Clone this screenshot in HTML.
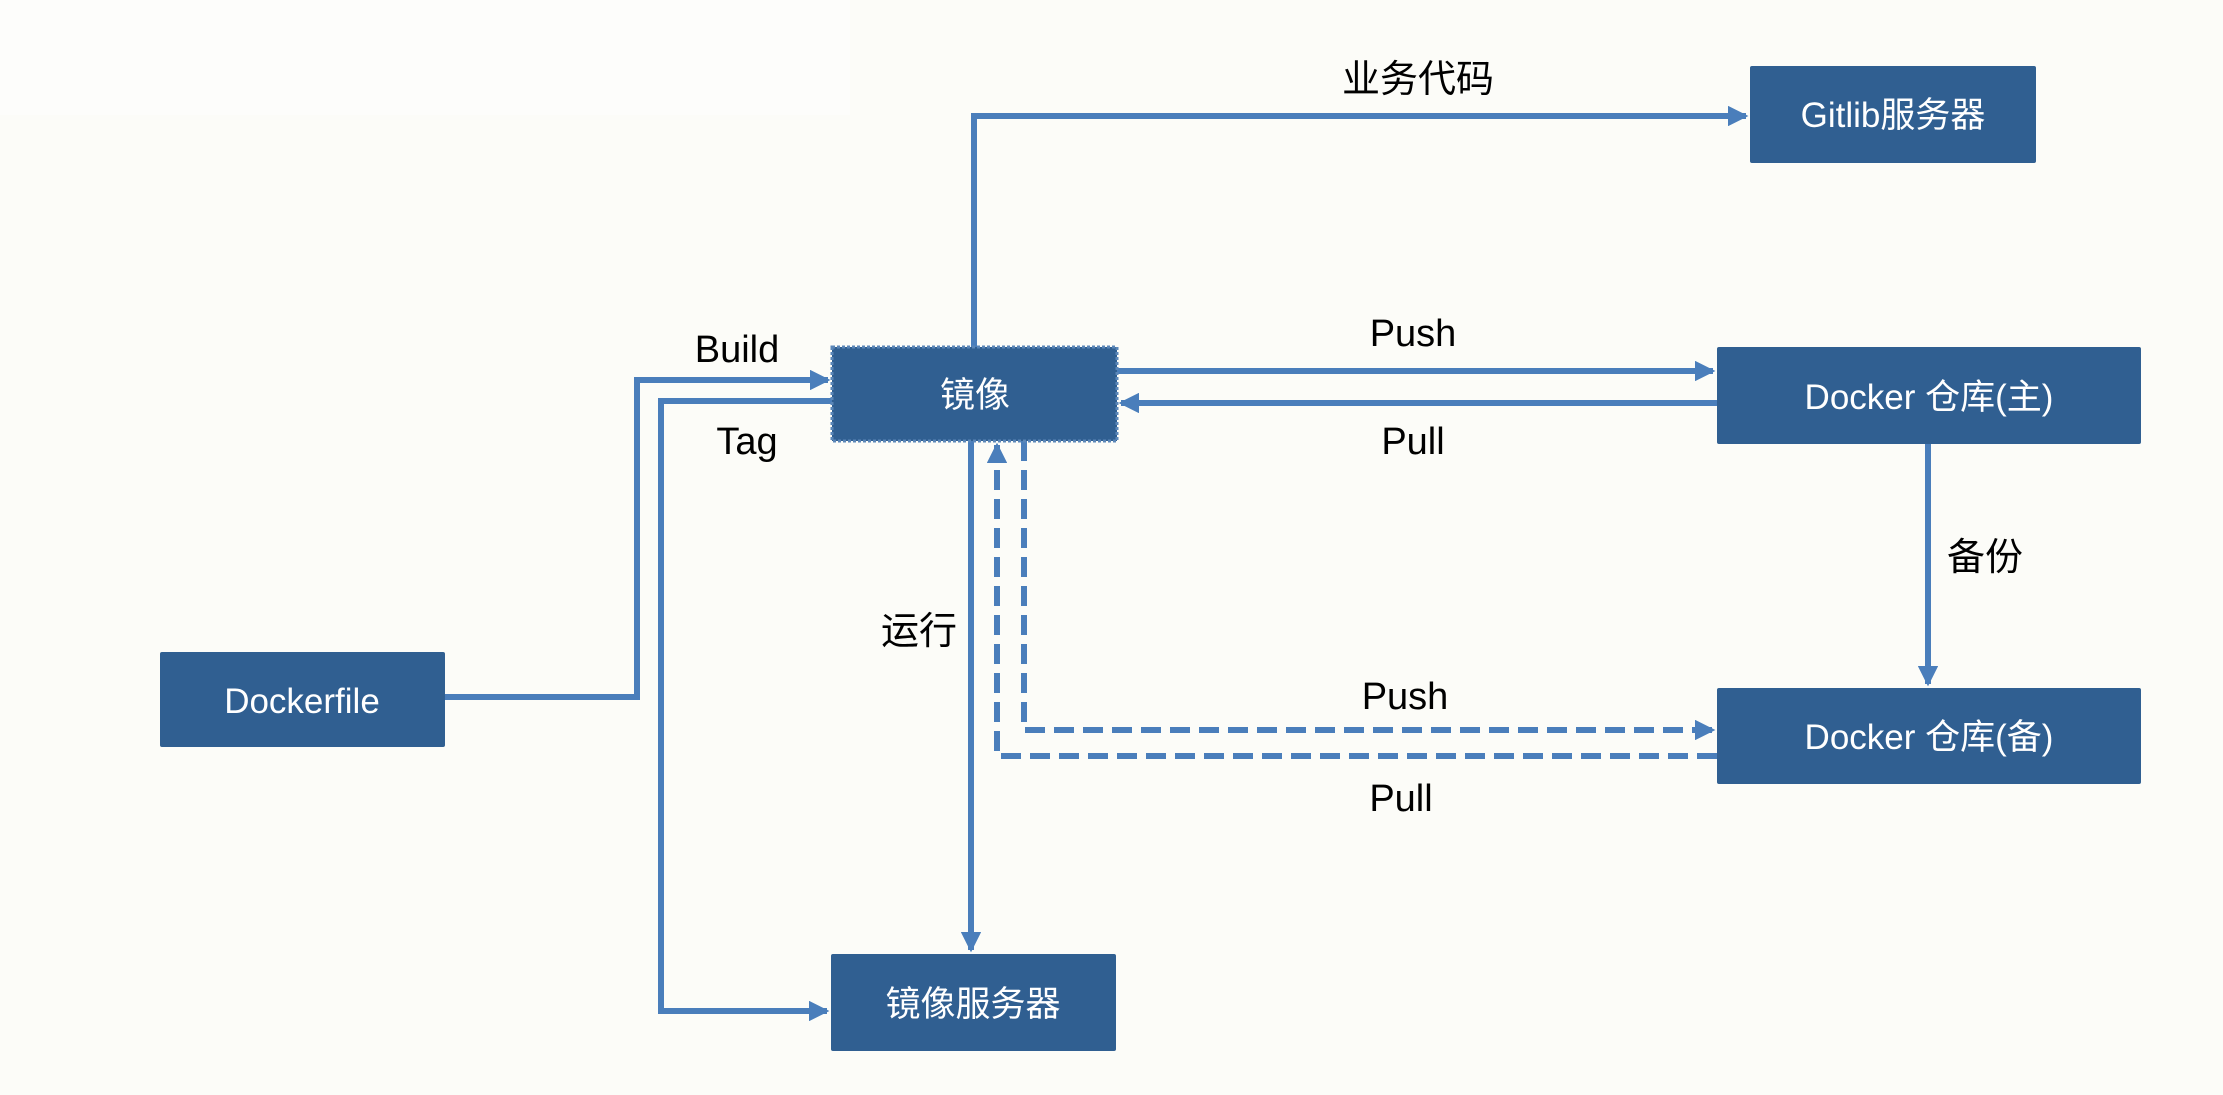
<!DOCTYPE html>
<html><head><meta charset="utf-8"><style>
html,body{margin:0;padding:0;background:#fcfcf8;}
svg{display:block;}
text{font-family:"Liberation Sans","Noto Sans CJK SC",sans-serif;}
</style></head><body>
<svg width="2223" height="1095" viewBox="0 0 2223 1095" xmlns="http://www.w3.org/2000/svg">
<defs>
<marker id="a" markerWidth="3.4" markerHeight="3.4" refX="3" refY="1.7" orient="auto" markerUnits="strokeWidth"><path d="M0,0 L3.4,1.7 L0,3.4 z" fill="#4a7ebb"/></marker>
</defs>
<rect x="0" y="0" width="2223" height="1095" fill="#fcfcf8"/>
<rect x="0" y="0" width="850" height="115" fill="#fdfdfb"/>
<g fill="none" stroke="#4a7ebb" stroke-width="6">
<polyline points="974,347 974,116 1746,116" marker-end="url(#a)"/>
<polyline points="445,697 637,697 637,380 828,380" marker-end="url(#a)"/>
<polyline points="832,401 661,401 661,1011 827,1011" marker-end="url(#a)"/>
<polyline points="1117,371 1713,371" marker-end="url(#a)"/>
<polyline points="1717,403 1121,403" marker-end="url(#a)"/>
<polyline points="971,441 971,950" marker-end="url(#a)"/>
<polyline points="1928,444 1928,684" marker-end="url(#a)"/>
<polyline points="1024,441 1024,730 1713,730" stroke-dasharray="20,9" marker-end="url(#a)"/>
<polyline points="1717,756 997,756 997,445" stroke-dasharray="20,9" marker-end="url(#a)"/>
</g>
<g fill="#305f91">
<rect x="1750" y="66" width="286" height="97" rx="2"/>
<rect x="832" y="347" width="285" height="94" stroke="#5a86b8" stroke-width="3" stroke-dasharray="3,2"/>
<rect x="1717" y="347" width="424" height="97" rx="2"/>
<rect x="1717" y="688" width="424" height="96" rx="2"/>
<rect x="160" y="652" width="285" height="95" rx="2"/>
<rect x="831" y="954" width="285" height="97" rx="2"/>
</g>
<g fill="#ffffff" font-size="35" text-anchor="middle">
<text x="1893" y="127">Gitlib服务器</text>
<text x="975" y="407">镜像</text>
<text x="1929" y="409">Docker 仓库(主)</text>
<text x="1929" y="749">Docker 仓库(备)</text>
<text x="302" y="713">Dockerfile</text>
<text x="973" y="1016">镜像服务器</text>
</g>
<g fill="#000" font-size="38" text-anchor="middle">
<text x="1418" y="92">业务代码</text>
<text x="737" y="362">Build</text>
<text x="747" y="454">Tag</text>
<text x="1413" y="346">Push</text>
<text x="1413" y="454">Pull</text>
<text x="919" y="644">运行</text>
<text x="1985" y="570">备份</text>
<text x="1405" y="709">Push</text>
<text x="1401" y="811">Pull</text>
</g>
</svg>
</body></html>
